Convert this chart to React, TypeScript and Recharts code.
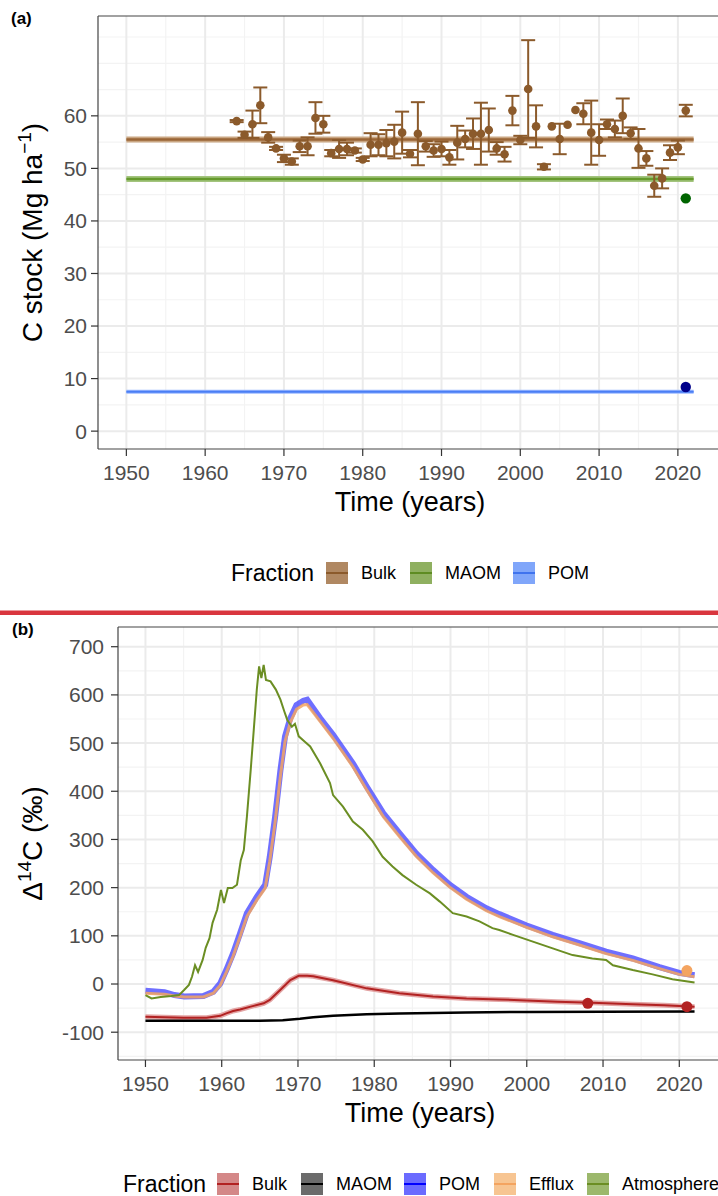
import React from 'react';
import { ComposedChart, Line, Scatter, ErrorBar, XAxis, YAxis, CartesianGrid, ReferenceLine, Label } from 'recharts';

const FONT = 'Arial, "Liberation Sans", Helvetica, sans-serif';

// ---- panel (a): C stocks ----
const modelYears = [1950, 2022];
const bulkStock = 55.5;
const maomStock = 48.0;
const pomStock = 7.5;

const obsYears = [
  1964, 1965, 1966, 1967, 1968, 1969, 1970, 1971, 1972, 1973, 1974, 1975, 1976, 1977, 1978, 1979, 1980, 1981, 1982,
  1983, 1984, 1985, 1986, 1987, 1988, 1989, 1990, 1991, 1992, 1993, 1994, 1995, 1996, 1997, 1998, 1999, 2000, 2001,
  2002, 2003, 2004, 2005, 2006, 2007, 2008, 2009, 2010, 2011, 2012, 2013, 2014, 2015, 2016, 2017, 2018, 2019, 2020, 2021,
];
const obsStock = [
  59.0, 56.4, 58.4, 62.0, 55.9, 53.8, 51.9, 51.3, 54.2, 54.2, 59.6, 58.4, 52.9, 53.7, 53.7, 53.4, 51.7, 54.5, 54.5,
  54.8, 55.1, 56.8, 52.8, 56.6, 54.2, 53.4, 53.7, 52.1, 54.9, 55.6, 56.6, 56.6, 57.3, 53.8, 52.7, 61.0, 55.4, 65.1,
  58.0, 50.3, 58.0, 55.6, 58.3, 61.1, 60.4, 56.8, 55.4, 58.4, 57.5, 60.0, 56.7, 53.8, 51.9, 46.7, 48.1, 53.0, 54.0, 61.0,
];
const obsErr = [
  0.2, 0.6, 2.6, 3.4, 1.0, 0.3, 0.7, 0.6, 1.1, 1.7, 3.0, 1.6, 0.6, 1.7, 1.2, 0.4, 0.3, 2.2, 2.0,
  2.5, 3.2, 4.0, 0.7, 6.0, 1.0, 1.2, 1.4, 1.4, 3.2, 1.6, 2.9, 5.9, 4.1, 1.2, 1.4, 2.8, 0.8, 9.3,
  4.0, 0.5, 0.0, 2.9, 0.0, 0.0, 2.0, 6.1, 3.0, 0.9, 1.6, 3.3, 1.1, 3.7, 1.4, 2.1, 1.9, 1.4, 1.3, 1.1,
];
const maomObs = { year: 2021, stock: 44.3 };
const pomObs = { year: 2021, stock: 8.4 };

const stockTicks = [0, 10, 20, 30, 40, 50, 60];
const stockMinor = [5, 15, 25, 35, 45, 55, 65, 70, 75];
const yearTicks = [1950, 1960, 1970, 1980, 1990, 2000, 2010, 2020];
const yearMinor = [1955, 1965, 1975, 1985, 1995, 2005, 2015];

// ---- panel (b): radiocarbon ----
const atmYears = [
  1950, 1950.8, 1952, 1953.4, 1954.4, 1955.1, 1955.7, 1956.1, 1956.5, 1956.9, 1957.5, 1957.9, 1958.4, 1958.8, 1959.4,
  1959.9, 1960.3, 1960.8, 1961.4, 1962, 1962.5, 1962.9, 1963.3, 1963.8, 1964.2, 1964.6, 1964.9, 1965.2, 1965.5, 1965.8,
  1966.4, 1967.1, 1967.7, 1968.2, 1968.6, 1969.2, 1969.6, 1970.1, 1970.9, 1971.6, 1972.9, 1974.2, 1974.6, 1975.9, 1977.2,
  1978.5, 1979.8, 1981.1, 1982.4, 1983.7, 1985.5, 1987.3, 1988.6, 1990.3, 1992.1, 1993.8, 1995.5, 1996.4, 1998.2, 2000.8,
  2003.4, 2006, 2008.6, 2010.4, 2011.3, 2013.9, 2016.5, 2019.1, 2022,
];
const atmD14C = [
  -23, -30, -27, -25, -23, -12, -2, 15, 39, 25, 50, 75, 95, 127, 154,
  195, 168, 199, 199, 206, 257, 278, 347, 444, 527, 611, 659, 635, 662, 631,
  628, 611, 590, 566, 548, 534, 540, 514, 503, 493, 458, 417, 392, 368, 337,
  320, 296, 264, 244, 226, 206, 188, 171, 147, 140, 130, 116, 112, 102, 88,
  74, 60, 53, 50, 39, 29, 20, 10, 3,
];

const poolYears = [
  1950, 1952.5, 1953.8, 1955.1, 1957.6, 1958.9, 1959.8, 1960.6, 1961.5, 1962.4, 1963.3, 1964.6, 1965.7, 1966.3,
  1967.0, 1967.7, 1968.3, 1969, 1969.8, 1970.7, 1971.2, 1972.9, 1974.6, 1977.2, 1979, 1981.2, 1983.3, 1985.5,
  1987.7, 1989.9, 1992.1, 1994.7, 1996.4, 1999.9, 2003.4, 2006.9, 2010.4, 2013.9, 2017.4, 2020, 2022,
];
const pomD14C = [
  -14, -17, -23, -26, -25, -16, 1, 29, 64, 105, 147, 181, 206, 264,
  347, 444, 514, 552, 579, 588, 590, 552, 517, 458, 410, 354, 313, 271,
  237, 206, 181, 157, 145, 122, 102, 85, 67, 53, 35, 23, 18,
];
const effluxD14C = [
  -19, -21, -25, -27, -27, -19, -3, 24, 58, 98, 140, 174, 199, 255,
  336, 432, 503, 543, 570, 579, 580, 545, 510, 451, 403, 347, 306, 265,
  231, 201, 176, 152, 140, 118, 98, 81, 63, 49, 32, 20, 15,
];

const bulkYears = [
  1950, 1955, 1958, 1959.8, 1960.6, 1961.5, 1962.4, 1963.8, 1965.5, 1966.3, 1967.7, 1969, 1970.1, 1971.2,
  1972, 1974.6, 1979, 1983.3, 1987.7, 1992.1, 1996.4, 1999.9, 2004, 2008.6, 2013.9, 2018, 2022,
];
const bulkD14C = [
  -68, -70, -70, -66, -61, -56, -53, -47, -40, -33, -12, 8, 17, 17,
  16, 8, -9, -19, -26, -30, -32, -34, -37, -39, -42, -44, -47,
];

const maomYears = [1950, 1960, 1965, 1968, 1970.25, 1972, 1974.6, 1979, 1983.3, 1987.7, 1992, 2000, 2010, 2022];
const maomD14C = [-76, -76, -76, -75, -72, -69, -66, -63, -61, -60, -59, -58, -57.5, -57];

const bulkObsYears = [2008, 2021];
const bulkObsD14C = [-40, -47];
const effluxObsYears = [2021];
const effluxObsD14C = [28];

const d14Ticks = [-100, 0, 100, 200, 300, 400, 500, 600, 700];
const d14Minor = [-150, -50, 50, 150, 250, 350, 450, 550, 650];

const xDomain: [number, number] = [1946.4, 2025.6];
const stockDomain: [number, number] = [-3.4, 79];
const d14Domain: [number, number] = [-157.7, 740.9];

const toXY = (xs: number[], ys: number[]) => xs.map((x, i) => ({ x, y: ys[i] }));

const modelBulk = modelYears.map((x) => ({ x, y: bulkStock }));
const modelMaom = modelYears.map((x) => ({ x, y: maomStock }));
const modelPom = modelYears.map((x) => ({ x, y: pomStock }));
const bulkObs = obsYears.map((x, i) => ({ x, y: obsStock[i], err: obsErr[i] }));

const tickStyle = { fill: '#4d4d4d', fontSize: 21, fontFamily: FONT };
const GRID = '#ebebeb';
const MINOR = '#f3f3f3';
const BORDER = { stroke: '#444', strokeWidth: 1.2 };

const xTitle = (props: any) => {
  const vb = props.viewBox || { x: 0, y: 0, width: 0, height: 0 };
  return (
    <text x={vb.x + vb.width / 2} y={vb.y + 62} textAnchor="middle" fontSize={27} fontFamily={FONT} fill="#000">
      Time (years)
    </text>
  );
};

const yTitleA = (props: any) => {
  const vb = props.viewBox || { x: 0, y: 16, width: 98, height: 433 };
  const cx = 42;
  const cy = vb.y + vb.height / 2;
  return (
    <text x={cx} y={cy} transform={`rotate(-90 ${cx} ${cy})`} textAnchor="middle" fontSize={28} fontFamily={FONT} fill="#000">
      C stock (Mg ha<tspan dy={-11} fontSize={19}>−1</tspan>
      <tspan dy={11}>)</tspan>
    </text>
  );
};

const yTitleB = (props: any) => {
  const vb = props.viewBox || { x: 0, y: 27, width: 118, height: 433 };
  const cx = 42;
  const cy = vb.y + vb.height / 2;
  return (
    <text x={cx} y={cy} transform={`rotate(-90 ${cx} ${cy})`} textAnchor="middle" fontSize={28} fontFamily={FONT} fill="#000">
      Δ<tspan dy={-11} fontSize={19}>14</tspan>
      <tspan dy={11}>C (‰)</tspan>
    </text>
  );
};

const dot = (r: number, color: string) => (p: any) => <circle cx={p.cx} cy={p.cy} r={r} fill={color} />;

const legendA = [
  { name: 'Bulk', fill: '#b08862', line: '#8b5a2b', keyX: 326 },
  { name: 'MAOM', fill: '#8fb060', line: '#5e8c22', keyX: 410 },
  { name: 'POM', fill: '#80a6fa', line: '#3f73ee', keyX: 513 },
];
const legendB = [
  { name: 'Bulk', fill: '#d48888', line: '#b22222', keyX: 217 },
  { name: 'MAOM', fill: '#6b6b6b', line: '#000000', keyX: 301 },
  { name: 'POM', fill: '#6b6bff', line: '#0000ff', keyX: 404 },
  { name: 'Efflux', fill: '#f7c592', line: '#f4a460', keyX: 494 },
  { name: 'Atmosphere', fill: '#9cb86c', line: '#6b8e23', keyX: 587 },
];

const LegendRow = ({ items, titleX, top }: { items: typeof legendA; titleX: number; top: number }) => (
  <g fontFamily={FONT}>
    <text x={titleX} y={top + 19} fontSize={23} fill="#000">Fraction</text>
    {items.map((it) => (
      <g key={it.name}>
        <rect x={it.keyX} y={top} width={22} height={22} fill={it.fill} />
        <line x1={it.keyX} x2={it.keyX + 22} y1={top + 11} y2={top + 11} stroke={it.line} strokeWidth={2} />
        <text x={it.keyX + 35} y={top + 17} fontSize={18} fill="#000">{it.name}</text>
      </g>
    ))}
  </g>
);

export default function App() {
  return (
    <div style={{ position: 'absolute', left: 0, top: 0, width: 718, height: 1196, overflow: 'hidden', background: '#fff', fontFamily: FONT }}>
      <div style={{ position: 'absolute', left: 0, top: 0 }}>
        <ComposedChart width={730} height={530} margin={{ top: 16, right: 8, bottom: 0, left: 0 }}>
          <CartesianGrid horizontalValues={stockMinor} verticalValues={yearMinor} stroke={MINOR} strokeWidth={1.2} />
          <CartesianGrid horizontalValues={stockTicks} verticalValues={yearTicks} stroke={GRID} strokeWidth={2} />
          <XAxis type="number" dataKey="x" domain={xDomain} ticks={yearTicks} allowDataOverflow axisLine={BORDER}
            tickSize={7} tickMargin={9} tick={tickStyle} tickLine={{ stroke: '#333', strokeWidth: 1.2 }} height={81}>
            <Label content={xTitle} />
          </XAxis>
          <YAxis type="number" domain={stockDomain} ticks={stockTicks} allowDataOverflow axisLine={BORDER}
            tickSize={7} tickMargin={4} tick={tickStyle} tickLine={{ stroke: '#333', strokeWidth: 1.2 }} width={98}>
            <Label content={yTitleA} />
          </YAxis>
          <ReferenceLine y={stockDomain[1]} {...BORDER} />
          <Line data={modelBulk} dataKey="y" stroke="#c9a682" strokeWidth={6} dot={false} isAnimationActive={false} />
          <Line data={modelBulk} dataKey="y" stroke="#9a6536" strokeWidth={2.5} dot={false} isAnimationActive={false} />
          <Line data={modelMaom} dataKey="y" stroke="#a3c47e" strokeWidth={6} dot={false} isAnimationActive={false} />
          <Line data={modelMaom} dataKey="y" stroke="#669a2c" strokeWidth={2.5} dot={false} isAnimationActive={false} />
          <Line data={modelPom} dataKey="y" stroke="#9dbaff" strokeWidth={4} dot={false} isAnimationActive={false} />
          <Line data={modelPom} dataKey="y" stroke="#4a7ef5" strokeWidth={2} dot={false} isAnimationActive={false} />
          <Scatter data={bulkObs} dataKey="y" fill="#8b5a2b" shape={dot(4.3, '#8b5a2b')} isAnimationActive={false}>
            <ErrorBar dataKey="err" direction="y" width={7} stroke="#8b5a2b" strokeWidth={2} isAnimationActive={false} />
          </Scatter>
          <Scatter data={[{ x: maomObs.year, y: maomObs.stock }]} dataKey="y" fill="#006400" shape={dot(5.2, '#006400')} isAnimationActive={false} />
          <Scatter data={[{ x: pomObs.year, y: pomObs.stock }]} dataKey="y" fill="#00008b" shape={dot(5.2, '#00008b')} isAnimationActive={false} />
        </ComposedChart>
      </div>

      <div style={{ position: 'absolute', left: 0, top: 600 }}>
        <ComposedChart width={730} height={540} margin={{ top: 27, right: 8, bottom: 0, left: 0 }}>
          <CartesianGrid horizontalValues={d14Minor} verticalValues={yearMinor} stroke={MINOR} strokeWidth={1.2} />
          <CartesianGrid horizontalValues={d14Ticks} verticalValues={yearTicks} stroke={GRID} strokeWidth={2} />
          <XAxis type="number" dataKey="x" domain={xDomain} ticks={yearTicks} allowDataOverflow axisLine={BORDER}
            tickSize={7} tickMargin={9} tick={tickStyle} tickLine={{ stroke: '#333', strokeWidth: 1.2 }} height={80}>
            <Label content={xTitle} />
          </XAxis>
          <YAxis type="number" domain={d14Domain} ticks={d14Ticks} allowDataOverflow axisLine={BORDER}
            tickSize={7} tickMargin={7} tick={tickStyle} tickLine={{ stroke: '#333', strokeWidth: 1.2 }} width={118}>
            <Label content={yTitleB} />
          </YAxis>
          <ReferenceLine y={d14Domain[1]} {...BORDER} />
          <Line data={toXY(bulkYears, bulkD14C)} dataKey="y" stroke="#e3a5a5" strokeWidth={5} dot={false} isAnimationActive={false} />
          <Line data={toXY(bulkYears, bulkD14C)} dataKey="y" stroke="#b22222" strokeWidth={2} dot={false} isAnimationActive={false} />
          <Line data={toXY(maomYears, maomD14C)} dataKey="y" stroke="#000" strokeWidth={2.5} dot={false} isAnimationActive={false} />
          <Line data={toXY(poolYears, pomD14C)} dataKey="y" stroke="#4b4bff" strokeOpacity={0.8} strokeWidth={6} dot={false} isAnimationActive={false} />
          <Line data={toXY(poolYears, effluxD14C)} dataKey="y" stroke="#f4a460" strokeOpacity={0.85} strokeWidth={3} dot={false} isAnimationActive={false} />
          <Line data={toXY(atmYears, atmD14C)} dataKey="y" stroke="#6b8e23" strokeWidth={2} dot={false} isAnimationActive={false} />
          <Scatter data={toXY(bulkObsYears, bulkObsD14C)} dataKey="y" fill="#b22222" shape={dot(5.5, '#b22222')} isAnimationActive={false} />
          <Scatter data={toXY(effluxObsYears, effluxObsD14C)} dataKey="y" fill="#f4a460" shape={dot(5.5, '#f4a460')} isAnimationActive={false} />
        </ComposedChart>
      </div>

      <svg width={718} height={1196} style={{ position: 'absolute', left: 0, top: 0, pointerEvents: 'none' }}>
        <text x={11} y={24} fontSize={17} fontWeight="bold" fontFamily={FONT} fill="#000">(a)</text>
        <LegendRow items={legendA} titleX={231} top={562} />
        <rect x={0} y={610.5} width={718} height={4.5} fill="#d9363e" />
        <text x={12} y={635} fontSize={17} fontWeight="bold" fontFamily={FONT} fill="#000">(b)</text>
        <LegendRow items={legendB} titleX={123} top={1173} />
      </svg>
    </div>
  );
}
